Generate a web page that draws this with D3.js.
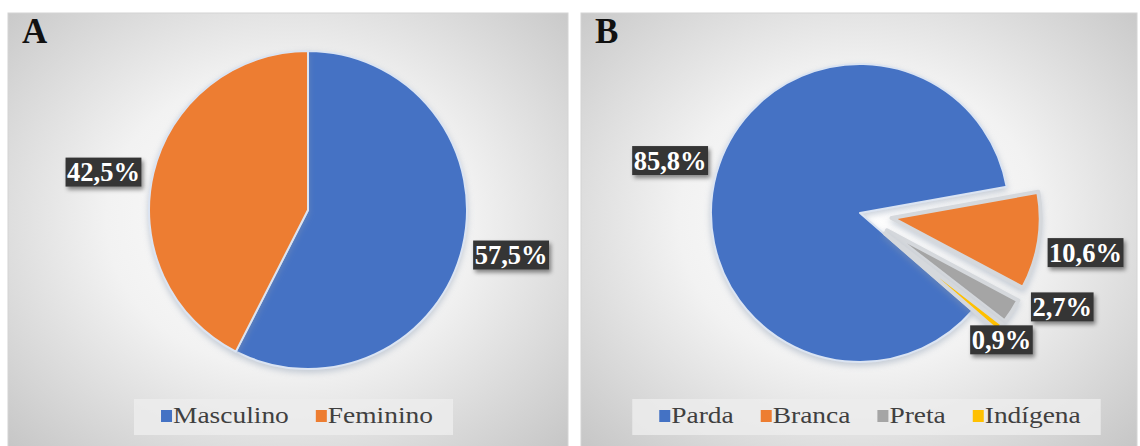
<!DOCTYPE html>
<html><head><meta charset="utf-8">
<script src="https://cdn.jsdelivr.net/npm/d3@7"></script>
<style>
html,body{margin:0;padding:0;background:#fff;}
svg{display:block;}
text{font-family:"Liberation Serif","Times New Roman",Tinos,serif;}
</style>
</head><body>
<svg id="chart" width="1140" height="446"></svg>
<script>
// ---- data ----
const panelALetter = "A";
const panelACategories = ["Masculino", "Feminino"];
const panelAValues = [57.5, 42.5];
const panelALabels = ["57,5%", "42,5%"];

const panelBLetter = "B";
const panelBCategories = ["Parda", "Branca", "Preta", "Indígena"];
const panelBValues = [85.8, 10.6, 2.7, 0.9];
const panelBLabels = ["85,8%", "10,6%", "2,7%", "0,9%"];

// ---- styles ----
const palette = ["#4472C4", "#ED7D31", "#A5A5A5", "#FFC000"];

const svg = d3.select("#chart");
const defs = svg.append("defs");

const grad = defs.append("radialGradient").attr("id", "bg")
  .attr("cx", "50%").attr("cy", "45%").attr("r", "72%");
grad.append("stop").attr("offset", "0%").attr("stop-color", "#ffffff");
grad.append("stop").attr("offset", "45%").attr("stop-color", "#f2f2f2");
grad.append("stop").attr("offset", "100%").attr("stop-color", "#c4c4c4");

const sh = defs.append("filter").attr("id", "lblShadow").attr("x", "-20%").attr("y", "-30%").attr("width", "150%").attr("height", "170%");
sh.append("feDropShadow").attr("dx", 2).attr("dy", 3).attr("stdDeviation", 2).attr("flood-color", "#000").attr("flood-opacity", 0.45);

const pieSh = defs.append("filter").attr("id", "pieShadow").attr("x", "-20%").attr("y", "-20%").attr("width", "140%").attr("height", "140%");
pieSh.append("feDropShadow").attr("dx", 0).attr("dy", 3).attr("stdDeviation", 3).attr("flood-color", "#8a9ab0").attr("flood-opacity", 0.45);

function panel(cfg) {
  const g = svg.append("g");
  g.append("rect").attr("x", cfg.x0).attr("y", 13).attr("width", cfg.x1 - cfg.x0).attr("height", 460)
    .attr("fill", "url(#bg)").attr("stroke", "#d4d4d4").attr("stroke-width", 1);
  g.append("text").attr("x", cfg.x0 + 14).attr("y", 43).text(cfg.letter)
    .attr("font-weight", "bold").attr("font-size", 35).attr("fill", "#111");

  const pie = d3.pie().sort(null).value(d => d)
    .startAngle(cfg.rot * Math.PI / 180).endAngle(cfg.rot * Math.PI / 180 + 2 * Math.PI);
  const arcs = pie(cfg.values);
  const arc = d3.arc().innerRadius(0).outerRadius(cfg.r);

  const pg = g.append("g").attr("transform", `translate(${cfg.cx},${cfg.cy})`);
  const mid = a => (a.startAngle + a.endAngle) / 2;

  pg.selectAll("path").data(arcs).join("path")
    .attr("d", arc)
    .attr("transform", (a, i) => {
      const e = cfg.explode[i];
      const m = mid(a);
      return `translate(${e * Math.sin(m)},${-e * Math.cos(m)})`;
    })
    .attr("fill", (a, i) => palette[i])
    .attr("stroke", (a, i) => cfg.explode[i] ? "#d5d8dc" : "#dbe4f2")
    .attr("stroke-width", (a, i) => cfg.explode[i] ? 4 : 2)
    .attr("stroke-linejoin", "round")
    .attr("filter", "url(#pieShadow)");

  // data labels
  arcs.forEach((a, i) => {
    const m = mid(a) + cfg.labelTurn[i] * Math.PI / 180;
    const d = cfg.labelDist[i];
    const lx = cfg.cx + d * Math.sin(m), ly = cfg.cy - d * Math.cos(m);
    const lg = g.append("g").attr("transform", `translate(${lx},${ly})`);
    const t = lg.append("text").text(cfg.labels[i])
      .attr("text-anchor", "middle").attr("dy", "0.35em")
      .attr("font-weight", "bold").attr("font-size", 26.5)
      .attr("fill", "#fff");
    const w = t.node().getComputedTextLength();
    lg.insert("rect", "text").attr("x", -w / 2 - 1.5).attr("y", -14.5).attr("width", w + 3).attr("height", 29)
      .attr("fill", "#363636").attr("filter", "url(#lblShadow)");
  });

  // legend
  const leg = g.append("g");
  const items = [];
  let x = 0;
  const sx = 1.22;
  cfg.categories.forEach((c, i) => {
    const it = leg.append("g");
    it.append("rect").attr("x", 0).attr("y", -6).attr("width", 11).attr("height", 12).attr("fill", palette[i]);
    const tg = it.append("g").attr("transform", `translate(12,0) scale(${sx},1)`);
    const t = tg.append("text").attr("x", 0).attr("dy", "0.33em").text(c)
      .attr("font-size", 22.5).attr("fill", "#404040");
    const w = 12 + t.node().getComputedTextLength() * sx;
    items.push({ it, x, w });
    x += w + 27;
  });
  const total = x - 27;
  const lx0 = cfg.legendCx - total / 2;
  items.forEach(o => o.it.attr("transform", `translate(${lx0 + o.x},416)`));
  leg.insert("rect", "g").attr("x", lx0 - 27).attr("y", 399).attr("width", total + 47).attr("height", 36)
    .attr("fill", "#ececec").attr("opacity", 0.85);
}

panel({
  x0: 8, x1: 568, letter: panelALetter, cx: 308, cy: 210, r: 159, rot: 0,
  values: panelAValues, categories: panelACategories, labels: panelALabels,
  explode: [0, 0], labelDist: [208, 208], labelTurn: [-1, -3], legendCx: 297
});
panel({
  x0: 581, x1: 1137, letter: panelBLetter, cx: 860, cy: 213, r: 149, rot: 131,
  values: panelBValues, categories: panelBCategories, labels: panelBLabels,
  explode: [0, 32, 32, 32], labelDist: [197, 229, 223, 190], labelTurn: [0, 1, -8, 2.5], legendCx: 870
});
</script>
</body></html>
